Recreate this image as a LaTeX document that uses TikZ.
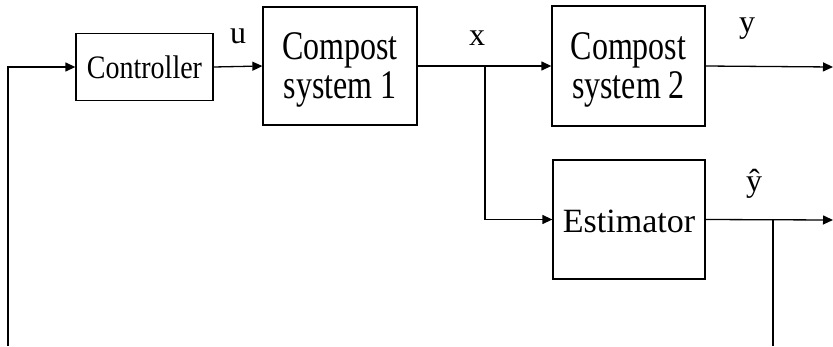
\documentclass[tikz,border=0pt]{standalone}
\usepackage{fontspec}
\usepackage{graphicx}
\setmainfont{Liberation Serif}
\usetikzlibrary{arrows.meta}

\tikzset{
  blockbox/.style={draw, line width=1.3pt, inner sep=0pt, align=center},
  wire/.style={line width=1.3pt},
  arr/.style={wire, -{Triangle[length=10pt,width=9pt]}},
  siglabel/.style={anchor=base, inner sep=0pt, font=\fontsize{32}{36}\selectfont},
}

% two-line block text, stretched vertically and set a little low
\newcommand{\tallpair}[2]{\raisebox{-5pt}[\height][\depth]{\scalebox{1}[1.27]{\fontsize{32}{30.7}\selectfont
  \begin{tabular}{@{}c@{}}#1\\#2\end{tabular}}}}

\begin{document}
\begin{tikzpicture}[x=1pt,y=-1pt]
  \useasboundingbox (0,0) rectangle (833,346);

  % blocks
  \node[blockbox, minimum width=137pt, minimum height=67pt] (ctrl) at (144.5,67)
    {\scalebox{1}[1.17]{\fontsize{28}{30}\selectfont Controller}};
  \node[blockbox, minimum width=154pt, minimum height=118pt] (cs1) at (340,66)
    {\tallpair{Compost}{system 1}};
  \node[blockbox, minimum width=153pt, minimum height=120pt] (cs2) at (628.5,66)
    {\tallpair{Compost}{system 2}};
  \node[blockbox, minimum width=152pt, minimum height=119pt] (est) at (629,219.5)
    {\raisebox{-1.5pt}[\height][\depth]{\fontsize{34}{36}\selectfont Estimator}};

  % connection points
  \coordinate (fbin) at (8,346);
  \coordinate (br) at (485,67);
  \coordinate (youtend) at (833,67);
  \coordinate (yhbr) at (773,220);
  \coordinate (yhoutend) at (833,220);
  \coordinate (fbout) at (773,346);

  % signal flow
  \draw[arr] (fbin) |- (ctrl.west);
  \draw[arr] (ctrl.east) -- (cs1.west);
  \draw[arr] (cs1.east) -- (cs2.west);
  \draw[arr] (br) |- (est.west);
  \draw[arr] (cs2.east) -- (youtend);
  \draw[arr] (est.east) -- (yhoutend);
  \draw[wire] (yhbr) -- (fbout);

  % signal labels
  \node[siglabel] (lu) at (238,43) {u};
  \node[siglabel] (lx) at (477,45) {x};
  \node[siglabel] (ly) at (747,32) {y};
  \node[siglabel] (lyh) at (754,191) {ŷ};
\end{tikzpicture}
\end{document}
